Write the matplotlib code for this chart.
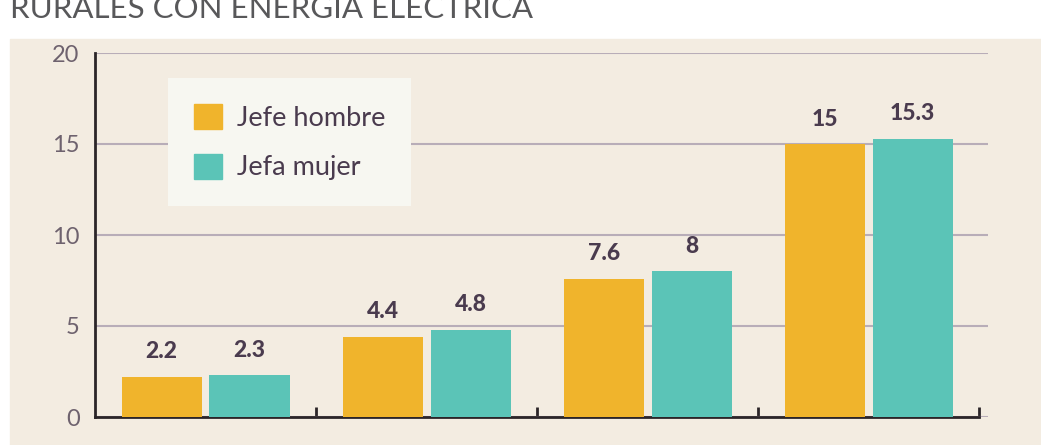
"""Hogares rurales con energía eléctrica: jefe hombre vs jefa mujer."""

import matplotlib.pyplot as plt
from matplotlib.patches import Patch, Rectangle

categorias = ["G1", "G2", "G3", "G4"]
jefe_hombre = [2.2, 4.4, 7.6, 15]
jefa_mujer = [2.3, 4.8, 8, 15.3]
yticks = [0, 5, 10, 15, 20]

NARANJA = "#F0B42C"
TURQUESA = "#5BC4B7"
FONDO = "#F3ECE1"
TEXTO = "#4A3B4E"
GRIS = "#6E626E"

plt.rcParams["font.family"] = ["Lato", "DejaVu Sans"]

W, H = 1041, 445
fig = plt.figure(figsize=(W / 100, H / 100), dpi=100)
fig.patches.append(Rectangle((10 / W, 0), 1 - 10 / W, 1 - 39 / H,
                             transform=fig.transFigure, color=FONDO, zorder=-1))
fig.text(10 / W, 1 - 18 / H, "RURALES CON ENERGÍA ELÉCTRICA", fontsize=22.5,
         color="#58585A", va="baseline", ha="left")

ax = fig.add_axes([95 / W, 1 - 417 / H, 893 / W, 364 / H])
ax.set_facecolor("none")

x = list(range(len(categorias)))
ancho = 0.362
desp = 0.199
b1 = ax.bar([i - desp for i in x], jefe_hombre, ancho, color=NARANJA, zorder=3)
b2 = ax.bar([i + desp for i in x], jefa_mujer, ancho, color=TURQUESA, zorder=3)

for barras, vals in ((b1, jefe_hombre), (b2, jefa_mujer)):
    for r, v in zip(barras, vals):
        ax.annotate(f"{v:g}", (r.get_x() + r.get_width() / 2, v),
                    xytext=(0, 18), textcoords="offset points",
                    ha="center", va="center", fontsize=16.5, fontweight="black",
                    color=TEXTO)

ax.set_xlim(-0.5, 3.54)
ax.set_ylim(0, 20)
ax.set_yticks(yticks)
ax.set_yticklabels([str(t) for t in yticks], fontsize=17, color=GRIS)
ax.tick_params(axis="y", length=0, pad=11)
ax.set_xticks([0.5, 1.5, 2.5, 3.5])
ax.set_xticklabels([])
ax.tick_params(axis="x", direction="in", length=7, width=2, color="#2B2528")
ax.yaxis.grid(True, color="#B8ADB8", linewidth=1.5, zorder=1)
ax.set_axisbelow(True)

for lado in ("top", "right"):
    ax.spines[lado].set_visible(False)
for lado in ("left", "bottom"):
    ax.spines[lado].set_color("#2B2528")
    ax.spines[lado].set_linewidth(2)
ax.spines["bottom"].set_bounds(-0.5, 3.5)

handles = [Patch(color=NARANJA, label="Jefe hombre"),
           Patch(color=TURQUESA, label="Jefa mujer")]
leg = ax.legend(handles=handles, loc="upper left",
                bbox_to_anchor=(168 / W, 1 - 78 / H),
                bbox_transform=fig.transFigure, fontsize=19.5, frameon=True,
                fancybox=False, handlelength=1.05, handleheight=1.05,
                handletextpad=0.55, borderpad=0.95, labelspacing=0.85,
                borderaxespad=0)
leg.get_frame().set_facecolor("#F7F7F1")
leg.get_frame().set_edgecolor("none")
leg.get_frame().set_alpha(1)
for t in leg.get_texts():
    t.set_color(TEXTO)

fig.savefig("out.png", dpi=100, facecolor="white")
